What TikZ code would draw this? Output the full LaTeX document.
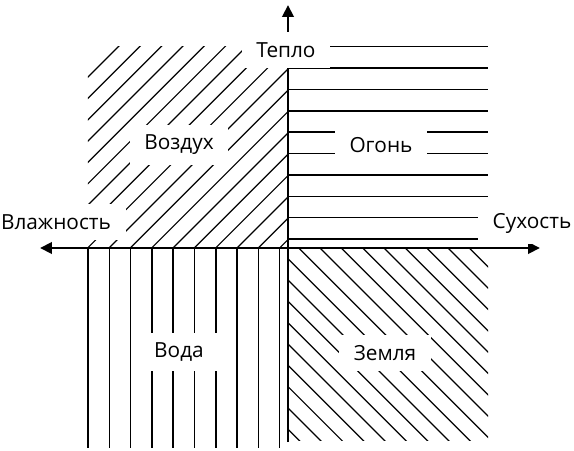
\documentclass[tikz,border=0pt]{standalone}
\usepackage{fontspec}
\setmainfont{Open Sans}
\usetikzlibrary{arrows.meta}
\tikzset{
    axis/.style = {line width=2.2pt, >={Triangle[length=9pt, width=8.5pt]}},
    hatch/.style = {line width=1.1pt},
    slant hatch/.style = {line width=0.9pt},
    element/.style = {fill=white, inner xsep=11pt, inner ysep=7.5pt, font=\fontsize{15.6}{18}\selectfont},
}

\begin{document}
\begin{tikzpicture}[x=75pt, y=75pt]
            \useasboundingbox (-2.88, -2.02) rectangle (2.86, 2.48);

            % air
            \begin{scope}
                \clip (-2, 0) rectangle (0, 2.01);
                \foreach \k in {0,...,17}
                    \draw[slant hatch] (-3.71 + 0.2133*\k, 0) -- ++(2.3, 2.3);
            \end{scope}

            % fire
            \foreach \k in {0,...,9}
                \draw[hatch] (0, 0.09 + 0.2136*\k) -- (2, 0.09 + 0.2136*\k);

            % water
            \foreach \k in {0,...,9}
                \draw[hatch] (-2 + 0.213*\k, 0) -- (-2 + 0.213*\k, -2);

            % earth
            \begin{scope}
                \clip (0, -1.92) rectangle (2, 0);
                \foreach \k in {-10,...,8}
                    \draw[slant hatch] (0.32 + 0.2133*\k, 0) -- ++(2.5, -2.5);
            \end{scope}

            \coordinate (south) at (0, -1.94);
            \coordinate (north) at (0, 2.43);
            \coordinate (west) at (-2.48, 0);
            \coordinate (east) at (2.52, 0);

            \draw[axis, ->] (south) -- (north);
            \draw[axis, <->] (west) -- (east);

            \node[element] (air) at (-1.09, 1.03) {Воздух};
            \node[element] (fire) at (0.93, 1.03) {Огонь};
            \node[element] (water) at (-1.09, -1.04) {Вода};
            \node[element] (earth) at (0.97, -1.05) {Земля};

            \node[element] (heat) at (-0.02, 1.98) {Тепло};
            \node[element] (wet) at (-2.32, 0.26) {Влажность};
            \node[element] (dry) at (2.44, 0.245) {Сухость};
        \end{tikzpicture}
\end{document}
